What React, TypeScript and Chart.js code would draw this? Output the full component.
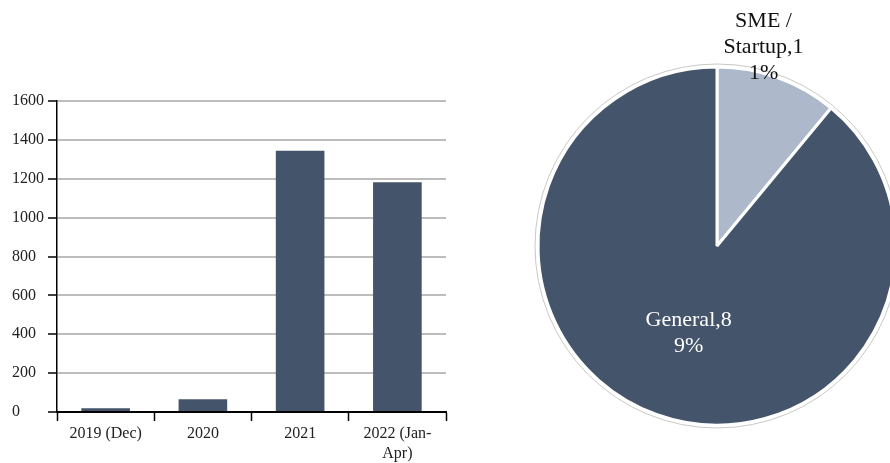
import React, { useEffect, useRef } from "react";
import { Chart, registerables } from "chart.js";

Chart.register(...registerables);

const barCategories: (string | string[])[] = ["2019 (Dec)", "2020", "2021", ["2022 (Jan-", "Apr)"]];
const barValues = [19, 65, 1344, 1182];
const yTicks = [0, 200, 400, 600, 800, 1000, 1200, 1400, 1600];

const pieCategories = ["SME / Startup", "General"];
const pieValues = [11, 89];
const pieLabelLines = [["SME /", "Startup,1", "1%"], ["General,8", "9%"]];

const DARK = "#44546A";
const LIGHT = "#ADB9CA";
const FONT = "'Liberation Serif', 'Times New Roman', serif";

export default function App() {
  const barRef = useRef<HTMLCanvasElement>(null);
  const pieRef = useRef<HTMLCanvasElement>(null);

  useEffect(() => {
    const bar = new Chart(barRef.current!, {
      type: "bar",
      data: {
        labels: barCategories as any,
        datasets: [
          {
            data: barValues,
            backgroundColor: DARK,
            barPercentage: 0.5,
            categoryPercentage: 1,
          },
        ],
      },
      options: {
        responsive: false,
        animation: false,
        layout: { padding: { left: 12, top: 101, right: 14, bottom: 0 } },
        plugins: { legend: { display: false }, tooltip: { enabled: false } },
        scales: {
          x: {
            grid: {
              drawOnChartArea: false,
              drawTicks: true,
              tickLength: 9,
              tickColor: "#000",
              tickWidth: 1.5,
              offset: true,
            },
            border: { color: "#000", width: 2 },
            ticks: {
              font: { family: FONT, size: 16, lineHeight: 1.25 },
              color: "#222",
              padding: 3,
              maxRotation: 0,
              autoSkip: false,
            },
            afterFit: (s: any) => {
              s.height = 51;
            },
          },
          y: {
            min: 0,
            max: 1600,
            afterBuildTicks: (s: any) => {
              s.ticks = yTicks.map((v) => ({ value: v }));
            },
            grid: {
              color: "#BDBDBD",
              lineWidth: 2,
              tickLength: 9,
              tickColor: "#000",
              tickWidth: 1.5,
            },
            border: { color: "#000", width: 1.5 },
            ticks: {
              font: { family: FONT, size: 16 },
              color: "#222",
              crossAlign: "far",
              callback: (v: any) => String(v),
            },
            afterFit: (s: any) => {
              s.width = 45;
            },
          },
        },
      },
    });

    const pieDeco = {
      id: "pieDeco",
      afterDatasetsDraw(chart: any) {
        const ctx = chart.ctx;
        const meta = chart.getDatasetMeta(0);
        const a0 = meta.data[0] as any;
        const cx = a0.x;
        const cy = a0.y;
        const r = a0.outerRadius;
        ctx.save();
        ctx.beginPath();
        ctx.arc(cx, cy, r + 3, 0, Math.PI * 2);
        ctx.strokeStyle = "#C8C8C8";
        ctx.lineWidth = 1;
        ctx.stroke();

        ctx.font = `22px ${FONT}`;
        ctx.textAlign = "center";
        ctx.textBaseline = "middle";
        const lh = 26;
        const smeLines = pieLabelLines[0];
        const sx = cx + r * 0.26;
        const sy = cy - r * 1.11;
        ctx.fillStyle = "#111";
        smeLines.forEach((t, i) => {
          ctx.fillText(t, sx, sy + (i - (smeLines.length - 1) / 2) * lh);
        });
        const a1 = meta.data[1] as any;
        const p = a1.tooltipPosition();
        const gLines = pieLabelLines[1];
        ctx.fillStyle = "#FFFFFF";
        gLines.forEach((t, i) => {
          ctx.fillText(t, p.x + 2, p.y + 3 + (i - (gLines.length - 1) / 2) * lh);
        });
        ctx.restore();
      },
    };

    const pie = new Chart(pieRef.current!, {
      type: "pie",
      data: {
        labels: pieCategories,
        datasets: [
          {
            data: pieValues,
            backgroundColor: [LIGHT, DARK],
            borderColor: "#FFFFFF",
            borderWidth: 3,
          },
        ],
      },
      options: {
        responsive: false,
        animation: false,
        radius: 179,
        layout: { padding: { top: 29 } },
        plugins: { legend: { display: false }, tooltip: { enabled: false } },
      } as any,
      plugins: [pieDeco],
    });

    return () => {
      bar.destroy();
      pie.destroy();
    };
  }, []);

  return (
    <div
      style={{
        position: "fixed",
        left: 0,
        top: 0,
        width: 890,
        height: 463,
        overflow: "hidden",
        background: "#fff",
      }}
    >
      <canvas
        ref={barRef}
        width={460}
        height={463}
        style={{ position: "absolute", left: 0, top: 0, width: 460, height: 463 }}
      />
      <canvas
        ref={pieRef}
        width={374}
        height={463}
        style={{ position: "absolute", left: 530, top: 0, width: 374, height: 463 }}
      />
    </div>
  );
}
